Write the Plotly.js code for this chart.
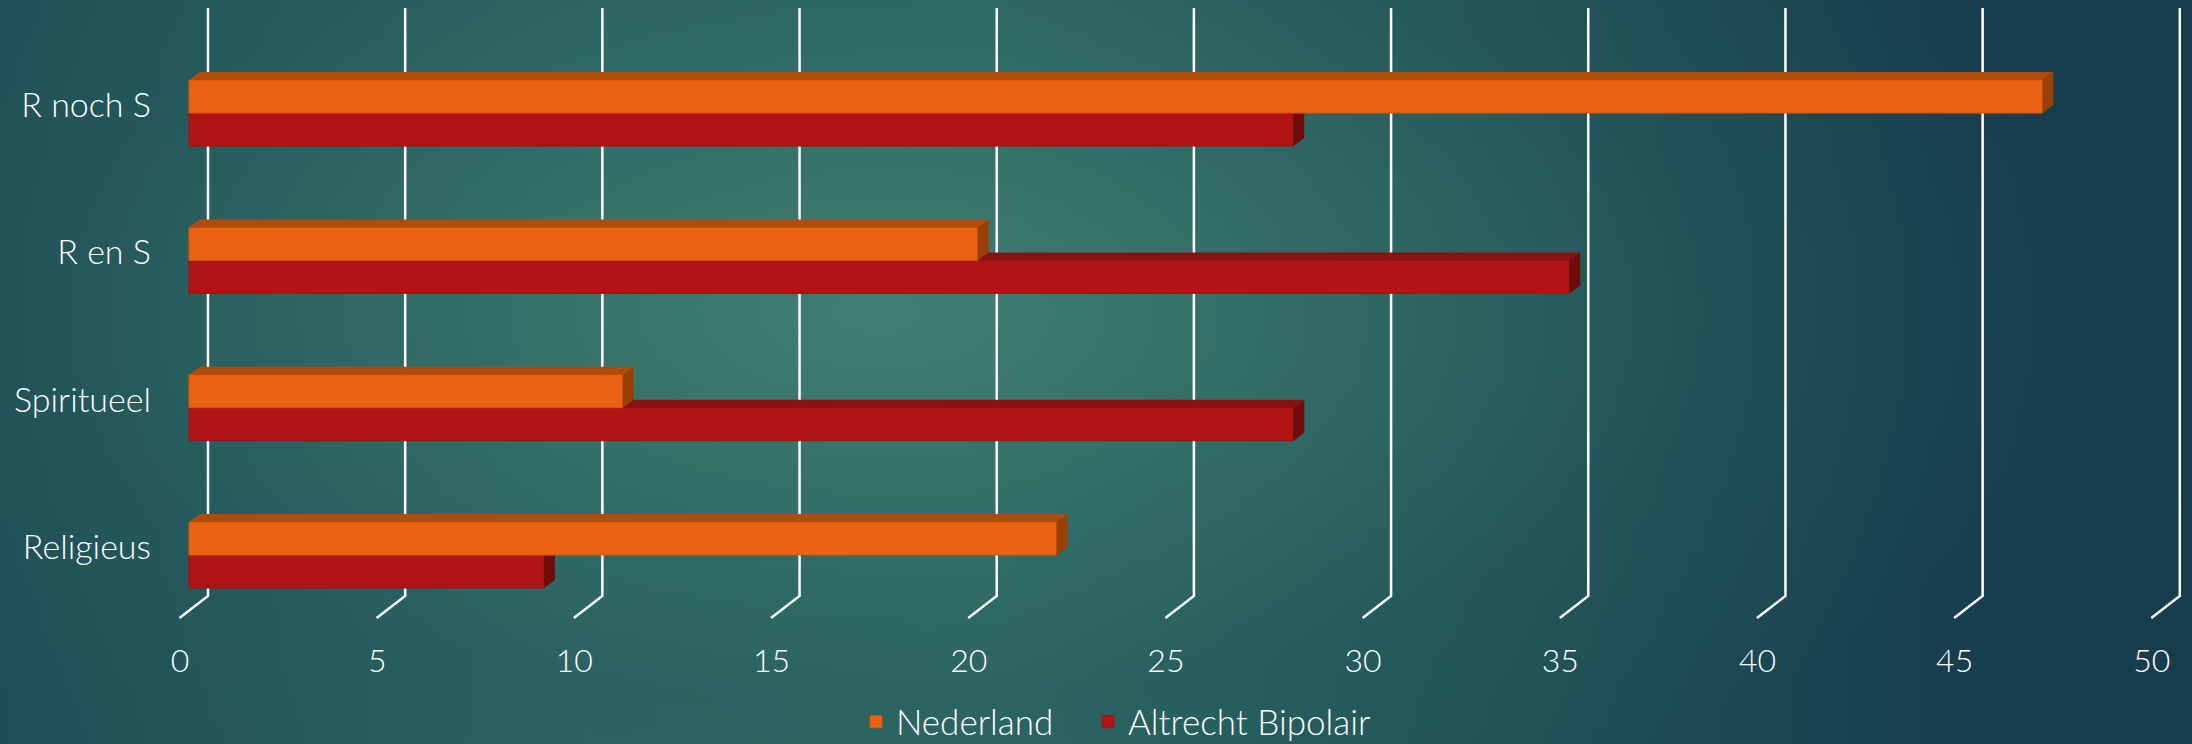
<!DOCTYPE html>
<html>
<head>
<meta charset="utf-8">
<script src="https://cdn.plot.ly/plotly-3.0.1.min.js"></script>
<style>
  html, body { margin: 0; padding: 0; }
  body {
    width: 2192px; height: 744px; overflow: hidden;
    background:
      radial-gradient(ellipse 55% 75% at 40% 42%, rgba(66,128,116,0.95) 0%, rgba(55,114,106,0.7) 35%, rgba(40,94,94,0.35) 70%, rgba(30,80,88,0) 100%),
      linear-gradient(to right, #1F4E56 0%, #2A6462 25%, #2D6864 45%, #225659 65%, #183F4F 88%, #163C4D 100%);
  }
  #chart { width: 2192px; height: 744px; }
</style>
</head>
<body>
<div id="chart"></div>
<script>
// ---- data ----
const categories = ['Religieus', 'Spiritueel', 'R en S', 'R noch S'];
const nederland = [22, 11, 20, 47];
const altrecht = [9, 28, 35, 28];
const xTickVals = [0, 5, 10, 15, 20, 25, 30, 35, 40, 45, 50];
const xTickText = ['0', '5', '10', '15', '20', '25', '30', '35', '40', '45', '50'];
const seriesNames = ['Nederland', 'Altrecht Bipolair'];

// ---- geometry (pixel-based styling) ----
const W = 2192, H = 744;
const M = {l: 160, r: 2, t: 8, b: 148, autoexpand: false};
const plotW = W - M.l - M.r, plotH = H - M.t - M.b;
const xRange = [-0.735, 50.74];
const yRange = [-0.278, 3.713];
const pxX = plotW / (xRange[1] - xRange[0]);
const pxY = plotH / (yRange[1] - yRange[0]);
const barH = 33 / pxY;          // front face height in y units
const dX = 11 / pxX, dY = 8 / pxY;  // 3D depth offset
const backOff = 19 / pxX;       // back wall offset for gridlines
const diagX = 28.5 / pxX, diagY = 22 / plotH;

const idx = categories.map((c, i) => i);

function faces(vals, low) {
  const top = {x: [], y: []}, end = {x: [], y: []};
  vals.forEach((v, i) => {
    const yB = low ? i - barH : i;
    const yT = yB + barH;
    top.x.push(0, v, v + dX, dX, 0, null);
    top.y.push(yT, yT, yT + dY, yT + dY, yT, null);
    end.x.push(v, v + dX, v + dX, v, v, null);
    end.y.push(yB, yB + dY, yT + dY, yT, yB, null);
  });
  return {top, end};
}

const colors = {
  ned: {front: '#EA6312', top: '#B24C0C', end: '#984008', edge: '#D4560E'},
  alt: {front: '#B01414', top: '#8A1111', end: '#6F0C0C', edge: '#9E1212'}
};

const fA = faces(altrecht, true);
const fN = faces(nederland, false);

function faceTrace(f, color, yaxis) {
  return {type: 'scatter', mode: 'lines', x: f.x, y: f.y, fill: 'toself',
    fillcolor: color, line: {width: 0, color: color}, hoverinfo: 'skip',
    showlegend: false, xaxis: 'x', yaxis: yaxis};
}

const traces = [
  {type: 'bar', orientation: 'h', name: seriesNames[1], x: altrecht, y: idx,
   base: 0, width: barH, offset: -barH, legend: 'legend2',
   marker: {color: colors.alt.front, line: {width: 1, color: colors.alt.edge}},
   xaxis: 'x', yaxis: 'y'},
  faceTrace(fA.top, colors.alt.top, 'y'),
  faceTrace(fA.end, colors.alt.end, 'y'),
  {type: 'bar', orientation: 'h', name: seriesNames[0], x: nederland, y: idx,
   base: 0, width: barH, offset: 0, legend: 'legend',
   marker: {color: colors.ned.front, line: {width: 1, color: colors.ned.edge}},
   xaxis: 'x', yaxis: 'y2'},
  faceTrace(fN.top, colors.ned.top, 'y2'),
  faceTrace(fN.end, colors.ned.end, 'y2')
];

const shapes = xTickVals.map(v => ({
  type: 'path', xref: 'x', yref: 'paper', layer: 'below',
  path: `M ${v + backOff} 1 L ${v + backOff} 0 L ${v + backOff - diagX} ${-diagY}`,
  line: {color: '#FFFFFF', width: 2.5}
}));

const fam = 'Lato, "Open Sans", sans-serif';
const catFont = {family: fam, color: '#FFFFFF', size: 34, weight: 300};
const tickFont = {family: fam, color: '#FFFFFF', size: 32, weight: 300};
const legFont = {family: fam, color: '#FFFFFF', size: 35, weight: 300};

const legBase = {orientation: 'h', xanchor: 'left', y: -(722 - 596) / plotH, yanchor: 'middle',
                 font: legFont, bgcolor: 'rgba(0,0,0,0)', borderwidth: 0};

const layout = {
  width: W, height: H,
  margin: M,
  paper_bgcolor: 'rgba(0,0,0,0)', plot_bgcolor: 'rgba(0,0,0,0)',
  font: tickFont,
  barmode: 'overlay',
  showlegend: true,
  legend: Object.assign({}, legBase, {x: (856 - M.l) / plotW}),
  legend2: Object.assign({}, legBase, {x: (1088 - M.l) / plotW}),
  xaxis: {range: xRange, tickmode: 'array', tickvals: xTickVals, ticktext: xTickText,
          showgrid: false, zeroline: false, showline: false, ticks: '',
          ticklabelshift: -9, ticklabelstandoff: 43, tickfont: tickFont, fixedrange: true},
  yaxis: {range: yRange, tickmode: 'array', tickvals: idx, ticktext: categories,
          showgrid: false, zeroline: false, showline: false, ticks: '',
          ticklabelshift: -8, ticklabelstandoff: 8, tickfont: catFont, fixedrange: true},
  yaxis2: {range: yRange, overlaying: 'y', visible: false, fixedrange: true},
  shapes: shapes
};

Plotly.newPlot('chart', traces, layout, {displayModeBar: false, staticPlot: true});
</script>
</body>
</html>
